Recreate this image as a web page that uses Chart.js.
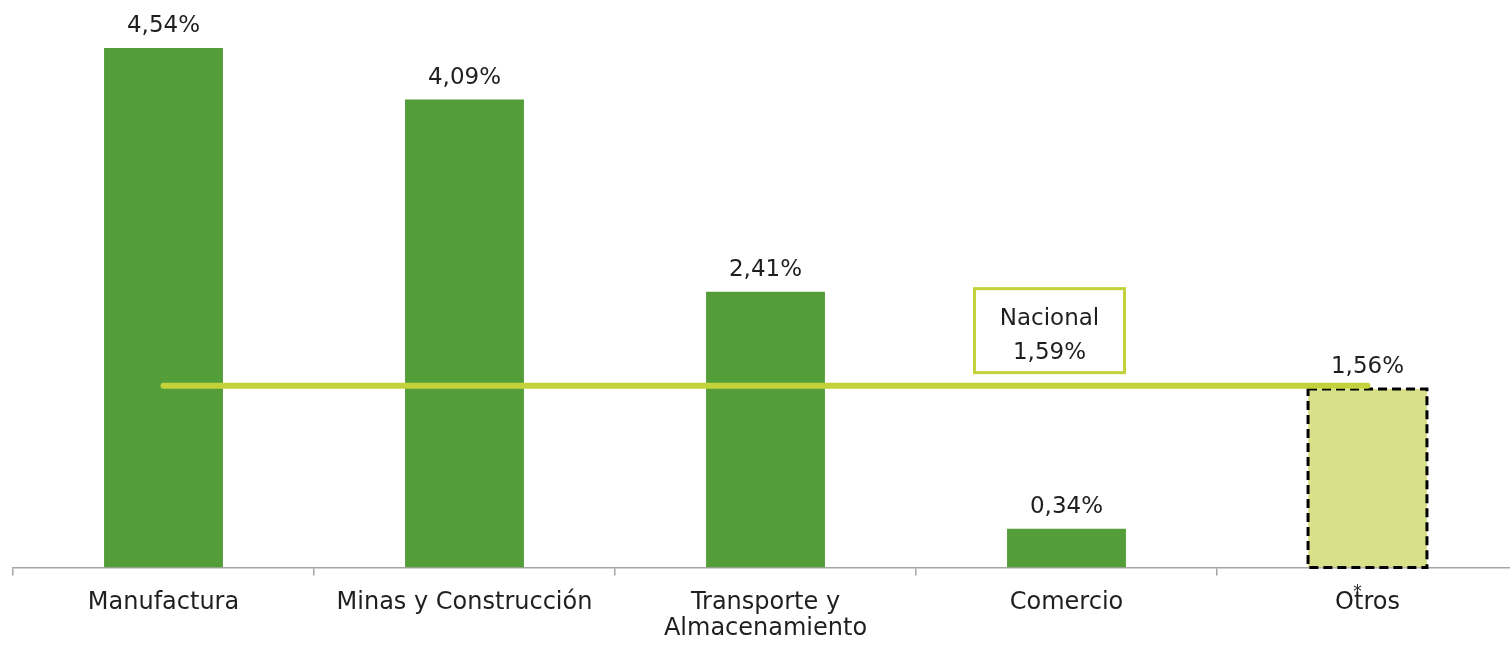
<!DOCTYPE html>
<html>
<head>
<meta charset="utf-8">
<script src="https://cdn.jsdelivr.net/npm/chart.js@4"></script>
<style>
  body { margin: 0; overflow: hidden; background: #fff; }
  #grafico { display: block; }
</style>
</head>
<body>
<canvas id="grafico" width="1520" height="662"></canvas>
<script>
// datos
var categorias = ['Manufactura', 'Minas y Construcción', ['Transporte y', 'Almacenamiento'], 'Comercio', 'Otros'];
var valores = [4.54, 4.09, 2.41, 0.34, 1.56];
var etiquetas = ['4,54%', '4,09%', '2,41%', '0,34%', '1,56%'];
var nacional = [1.59, 1.59, 1.59, 1.59, 1.59];
var textoNacional = ['Nacional', '1,59%'];

var verde = '#549e39';
var verdeClaro = '#d8e18a';
var lima = '#c3d23a';
var fuente = '"DejaVu Sans", sans-serif';

var coloresBarra = [];
for (let i = 0; i < valores.length; i++) {
  coloresBarra.push(i == valores.length - 1 ? verdeClaro : verde);
}

// etiquetas encima de barras + borde punteado de "Otros"
var pluginEtiquetas = {
  id: 'etiquetas',
  afterDatasetDraw: function (chart, args) {
    if (args.index !== 0) return;
    var ctx = chart.ctx;
    var meta = chart.getDatasetMeta(0);
    var ultimo = meta.data[meta.data.length - 1];
    var w = ultimo.width;
    ctx.save();
    ctx.strokeStyle = '#000';
    ctx.lineWidth = 3;
    ctx.setLineDash([9, 5]);
    ctx.strokeRect(ultimo.x - w / 2, ultimo.y, w, ultimo.base - ultimo.y);
    ctx.restore();
  },
  afterDraw: function (chart) {
    var ctx = chart.ctx;
    var meta = chart.getDatasetMeta(0);
    ctx.save();
    ctx.fillStyle = '#1f1f1f';
    ctx.font = '23px ' + fuente;
    ctx.textAlign = 'center';
    ctx.textBaseline = 'alphabetic';
    meta.data.forEach(function (bar, i) {
      ctx.fillText(etiquetas[i], bar.x, bar.y - 16);
    });

    // cuadro nacional
    var x = chart.scales.x;
    var y = chart.scales.y;
    var cx = x.getPixelForValue(3) - 17;
    var fondo = y.getPixelForValue(nacional[3]) - 13;
    var ancho = 150, alto = 84;
    ctx.fillStyle = '#fff';
    ctx.fillRect(cx - ancho / 2, fondo - alto, ancho, alto);
    ctx.strokeStyle = lima;
    ctx.lineWidth = 3;
    ctx.strokeRect(cx - ancho / 2, fondo - alto, ancho, alto);
    ctx.fillStyle = '#1f1f1f';
    ctx.fillText(textoNacional[0], cx, fondo - alto + 36);
    ctx.fillText(textoNacional[1], cx, fondo - alto + 70);

    // asterisco de Otros
    ctx.font = '17px ' + fuente;
    ctx.fillText('*', x.getPixelForValue(4) - 10, y.getPixelForValue(0) + 29);
    ctx.restore();
  }
};

function crear_grafico() {
  var ctx = document.getElementById('grafico').getContext('2d');
  window.grafica = new Chart(ctx, {
    type: 'bar',
    data: {
      labels: categorias,
      datasets: [{
        type: 'bar',
        data: valores,
        backgroundColor: coloresBarra,
        borderWidth: 0,
        barPercentage: 0.395,
        categoryPercentage: 1,
        order: 1
      }, {
        type: 'line',
        data: nacional,
        borderColor: lima,
        borderWidth: 6,
        borderCapStyle: 'round',
        pointRadius: 0,
        fill: false,
        order: 0
      }]
    },
    options: {
      responsive: false,
      animation: false,
      layout: { padding: { left: 13, right: 2, top: 0, bottom: 6 } },
      plugins: { legend: { display: false }, tooltip: { enabled: false } },
      scales: {
        x: {
          offset: true,
          grid: { offset: true, drawOnChartArea: false, drawTicks: true, tickLength: 8, color: '#a6a6a6', lineWidth: 1.5 },
          border: { display: true, color: '#a6a6a6', width: 1.5 },
          ticks: { color: '#1f1f1f', font: { family: fuente, size: 24, lineHeight: 1.05 }, padding: 15, maxRotation: 0, autoSkip: false }
        },
        y: {
          display: false,
          min: 0,
          max: 4.96
        }
      }
    },
    plugins: [pluginEtiquetas]
  });
}

crear_grafico();
</script>
</body>
</html>
